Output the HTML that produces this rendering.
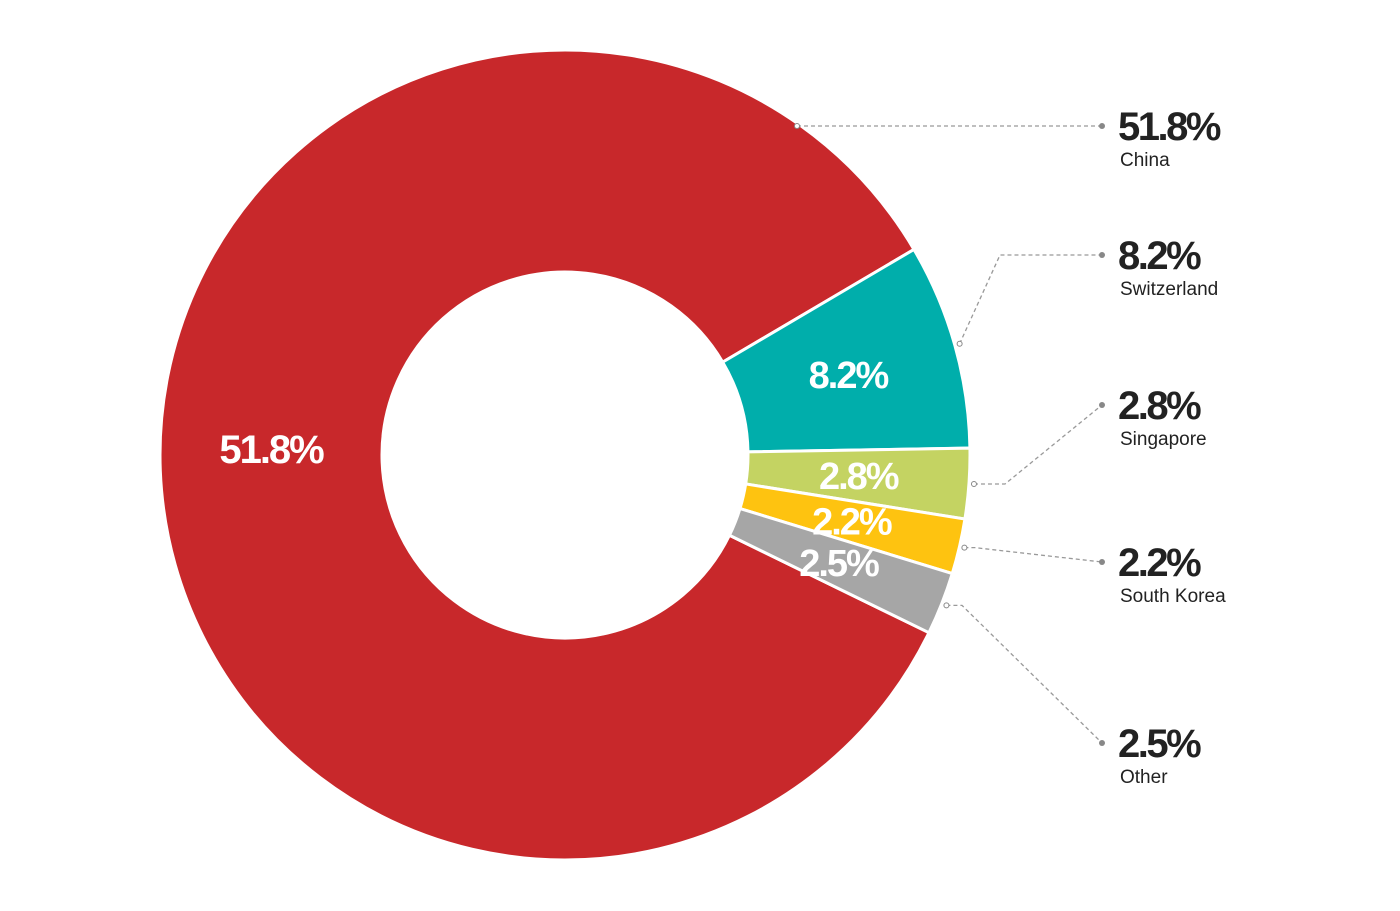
<!DOCTYPE html>
<html><head><meta charset="utf-8"><style>
html,body{margin:0;padding:0;background:#fff;}
svg{display:block;font-family:"Liberation Sans",sans-serif;}
</style></head><body>
<svg id="chart" width="1400" height="911" viewBox="0 0 1400 911"></svg>
<script>
const categories = ["Switzerland","Singapore","South Korea","Other"];
const values = [8.2, 2.8, 2.2, 2.5];
const mainCategory = "China";
const mainValue = 51.8;
const colors = ["#00aeab","#c4d362","#fec310","#a6a6a6"];
const mainColor = "#c8282b";
const leaderDotsY = [255,405,562,743];

const svg = document.getElementById('chart');
const NS = 'http://www.w3.org/2000/svg';
const cx = 565, cy = 455, R = 405, r = 183, startDeg = 59.5;
function pt(deg, rad){const a=deg*Math.PI/180;return [cx+rad*Math.sin(a), cy-rad*Math.cos(a)];}
function arc(a0,a1){
  const large=(a1-a0)>180?1:0;
  const p0=pt(a0,R),p1=pt(a1,R),q1=pt(a1,r),q0=pt(a0,r);
  return `M${p0}A${R},${R} 0 ${large} 1 ${p1}L${q1}A${r},${r} 0 ${large} 0 ${q0}Z`;
}
function mk(tag,attrs){const e=document.createElementNS(NS,tag);for(const k in attrs)e.setAttribute(k,attrs[k]);svg.appendChild(e);return e;}
function angleOf(v){return v/100*360;}

let a = startDeg;
const spans = [];
values.forEach(v=>{spans.push([a,a+angleOf(v)]);a+=angleOf(v);});
const endDeg = a;
// main slice
const mp = mk('path',{d:arc(endDeg,startDeg+360),fill:mainColor,stroke:'#fff','stroke-width':3});


spans.forEach((s,i)=>{
  const p = mk('path',{d:arc(s[0],s[1]),fill:colors[i],stroke:'#fff','stroke-width':3});
  
  
});
function inLabel(txt,deg,name,size){
  const [x,y]=pt(deg,(R+r)/2);
  const t=mk('text',{x:x,y:y+13,'text-anchor':'middle',fill:'#fff','font-size':size,'font-weight':'bold','letter-spacing':'-2'});
  t.textContent=txt;
  
  
}
inLabel(mainValue+'%',271,'slice-label-china',40);
spans.forEach((s,i)=>inLabel(values[i]+'%',(s[0]+s[1])/2,'slice-label-'+i,38));

function leader(points,name){
  const l=mk('polyline',{points:points.map(p=>p.join(',')).join(' '),fill:'none',stroke:'#999','stroke-width':1.3,'stroke-dasharray':'4,3'});
  
  
  const e=points[points.length-1];
  const d=mk('circle',{cx:e[0],cy:e[1],r:3,fill:'#888'});
  
  
  const s=points[0];
  const c=mk('circle',{cx:s[0],cy:s[1],r:2.5,fill:'#fff',stroke:'#888','stroke-width':1});
  
  
}
function sideLabel(val,name,y,key){
  const t=mk('text',{x:1118,y:y+14,fill:'#222','font-size':40,'font-weight':'bold','letter-spacing':'-2.5'});
  t.textContent=val+'%';
  
  
  const n=mk('text',{x:1120,y:y+40,fill:'#222','font-size':19});
  n.textContent=name;
  
  
}
// China
leader([[797,126],[1102,126]],'leader-china');
sideLabel(mainValue,mainCategory,126,'china');
const elbows=[[1000,255],[1005,486],[975,562],[962,608]];
spans.forEach((s,i)=>{
  const m=(s[0]+s[1])/2;
  const p=pt(m,R+5);
  const y=leaderDotsY[i];
  let pts;
  if(i===0) pts=[p,[1000,y],[1102,y]];
  else pts=[p,[elbows[i][0],p[1]],[1102,y]];
  const key=categories[i].toLowerCase().replace(/ /g,'-');
  leader(pts,'leader-'+key);
  sideLabel(values[i],categories[i],y,key);
});
</script>
</body></html>
